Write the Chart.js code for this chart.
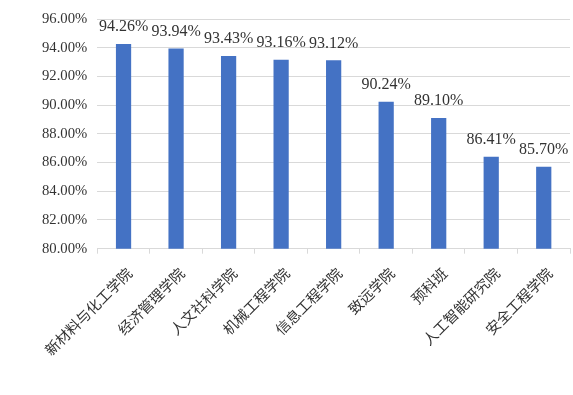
<!DOCTYPE html>
<html>
<head>
<meta charset="utf-8">
<script src="https://cdn.jsdelivr.net/npm/chart.js@4/dist/chart.umd.min.js"></script>
<style>
html,body{margin:0;padding:0;background:#fff;}
#wrap{width:573px;height:395px;position:relative;}
</style>
</head>
<body>
<div id="wrap"><canvas id="c" width="573" height="395"></canvas></div>
<script>
const categories = ["新材料与化工学院","经济管理学院","人文社科学院","机械工程学院","信息工程学院","致远学院","预科班","人工智能研究院","安全工程学院"];
const values = [94.26, 93.94, 93.43, 93.16, 93.12, 90.24, 89.10, 86.41, 85.70];
const yMin = 80, yMax = 96, yStep = 2;

const FONT = '"Liberation Serif", "Noto Sans CJK SC", serif';
const TEXT = '#333333';

const barLabels = {
  id: 'barLabels',
  afterDatasetsDraw(chart) {
    const ctx = chart.ctx;
    const meta = chart.getDatasetMeta(0);
    ctx.save();
    ctx.font = '16px ' + FONT;
    ctx.fillStyle = TEXT;
    ctx.textAlign = 'center';
    ctx.textBaseline = 'middle';
    meta.data.forEach((bar, i) => {
      const v = chart.data.datasets[0].data[i];
      ctx.fillText(v.toFixed(2) + '%', bar.x, bar.y - 17);
    });
    ctx.restore();
  }
};

new Chart(document.getElementById('c'), {
  type: 'bar',
  data: {
    labels: categories,
    datasets: [{
      data: values,
      backgroundColor: '#4472C4',
      borderWidth: 0,
      categoryPercentage: 1.0,
      barPercentage: 0.29
    }]
  },
  options: {
    responsive: false,
    animation: false,
    devicePixelRatio: 1,
    layout: { padding: { left: 32, right: 3, top: 19, bottom: 23 } },
    plugins: { legend: { display: false }, tooltip: { enabled: false } },
    scales: {
      x: {
        grid: { display: true, offset: true, drawOnChartArea: false, drawTicks: true, tickLength: 5, color: '#d9d9d9' },
        border: { display: true, color: '#d9d9d9' },
        ticks: {
          color: TEXT,
          font: { family: FONT, size: 14.5 },
          minRotation: 45, maxRotation: 45,
          autoSkip: false,
          padding: 12,
          labelOffset: 7
        }
      },
      y: {
        min: yMin, max: yMax,
        grid: { color: '#d9d9d9', drawTicks: false },
        border: { display: false },
        ticks: {
          stepSize: yStep,
          color: TEXT,
          font: { family: FONT, size: 14.7 },
          padding: 10,
          callback: v => v.toFixed(2) + '%'
        }
      }
    }
  },
  plugins: [barLabels]
});
</script>
</body>
</html>
